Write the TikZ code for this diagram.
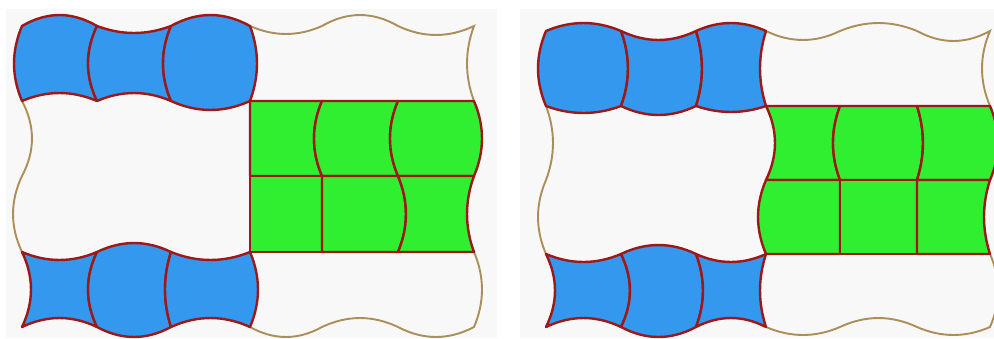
\documentclass[tikz,border=0pt]{standalone}
\usetikzlibrary{calc}
\definecolor{tileblue}{RGB}{51,152,238}
\definecolor{tilegreen}{RGB}{48,238,48}
\definecolor{edgered}{RGB}{158,24,24}
\definecolor{edgegold}{RGB}{172,142,88}
\definecolor{panelbg}{RGB}{248,248,248}
\tikzset{
 bh/.style={to path={.. controls ($(\tikztostart)!1/3!(\tikztotarget)+(0,{1.33*(#1)})$) and ($(\tikztostart)!2/3!(\tikztotarget)+(0,{1.33*(#1)})$) .. (\tikztotarget)}},
 bv/.style={to path={.. controls ($(\tikztostart)!1/3!(\tikztotarget)+({1.33*(#1)},0)$) and ($(\tikztostart)!2/3!(\tikztotarget)+({1.33*(#1)},0)$) .. (\tikztotarget)}},
 tileline/.style={draw=edgered, line width=2.4pt, line join=round},
 goldline/.style={draw=edgegold, line width=1.9pt, line join=miter, line cap=round},
}
\newcommand\tilebox[9]{\filldraw[tileline,fill=#1] (#2) to[bh=#6] (#3) to[bv=#7] (#4) to[bh=#8] (#5) to[bv=#9] (#2) -- cycle;}
\begin{document}
\begin{tikzpicture}[x=1pt,y=-1pt]
\useasboundingbox (0,0) rectangle (994,338);
\clip (0,0) rectangle (994,338);
\fill[panelbg] (6,9) rectangle (497,338);
\fill[panelbg] (520,9) rectangle (994,338);
\foreach \i/\x in {0/22,1/97,2/171,3/250,4/322,5/398,6/474}
 \foreach \j/\y in {0/26,1/101,2/176,3/252,4/327}
  \coordinate (a\i\j) at (\x,\y);
\foreach \i/\x in {0/546,1/621,2/696,3/766,4/840,5/917,6/990}
 \foreach \j/\y in {0/31,1/106,2/180,3/254,4/327}
  \coordinate (b\i\j) at (\x,\y);
% ---------- panel 1 ----------
\draw[goldline] (a30) to[bh=8] (a40) to[bh=-11] (a50) to[bh=9] (a60) to[bv=-7] (a61);
\draw[goldline] (a01) to[bv=10] (a02) to[bv=-9] (a03);
\draw[goldline] (a63) to[bv=8] (a64) to[bh=10] (a54) to[bh=-9] (a44) to[bh=10] (a34);
\tilebox{tileblue}{a00}{a10}{a11}{a01}{-11}{-9}{-8}{-8}
\tilebox{tileblue}{a10}{a20}{a21}{a11}{7}{-8}{-8}{-9}
\tilebox{tileblue}{a20}{a30}{a31}{a21}{-11}{7}{9}{-8}
\tilebox{tileblue}{a03}{a13}{a14}{a04}{8}{-9}{-9}{9}
\tilebox{tileblue}{a13}{a23}{a24}{a14}{-9}{-6}{10}{-9}
\tilebox{tileblue}{a23}{a33}{a34}{a24}{8}{8}{-9}{-6}
\tilebox{tilegreen}{a31}{a41}{a42}{a32}{0}{-8}{0}{0}
\tilebox{tilegreen}{a41}{a51}{a52}{a42}{0}{-8}{0}{-8}
\tilebox{tilegreen}{a51}{a61}{a62}{a52}{0}{8}{0}{-8}
\tilebox{tilegreen}{a32}{a42}{a43}{a33}{0}{0}{0}{0}
\tilebox{tilegreen}{a42}{a52}{a53}{a43}{0}{8}{0}{0}
\tilebox{tilegreen}{a52}{a62}{a63}{a53}{0}{-7}{0}{8}
% ---------- panel 2 ----------
\draw[goldline] (b30) to[bh=9] (b40) to[bh=-8] (b50) to[bh=10] (b60) to[bv=-8] (b61);
\draw[goldline] (b01) to[bv=7] (b02) to[bv=-8] (b03);
\draw[goldline] (b63) to[bv=8] (b64) to[bh=8] (b54) to[bh=-9] (b44) to[bh=8] (b34);
\tilebox{tileblue}{b00}{b10}{b11}{b01}{-8}{7}{7}{-8}
\tilebox{tileblue}{b10}{b20}{b21}{b11}{9}{6}{9}{7}
\tilebox{tileblue}{b20}{b30}{b31}{b21}{-8}{-6}{6}{6}
\tilebox{tileblue}{b03}{b13}{b14}{b04}{8}{9}{-9}{9}
\tilebox{tileblue}{b13}{b23}{b24}{b14}{-9}{7}{10}{9}
\tilebox{tileblue}{b23}{b33}{b34}{b24}{8}{-6}{-9}{7}
\tilebox{tilegreen}{b31}{b41}{b42}{b32}{0}{-7}{0}{9}
\tilebox{tilegreen}{b41}{b51}{b52}{b42}{0}{6}{0}{-7}
\tilebox{tilegreen}{b51}{b61}{b62}{b52}{0}{8}{0}{6}
\tilebox{tilegreen}{b32}{b42}{b43}{b33}{0}{0}{0}{-8}
\tilebox{tilegreen}{b42}{b52}{b53}{b43}{0}{0}{0}{0}
\tilebox{tilegreen}{b52}{b62}{b63}{b53}{0}{-6}{0}{0}
\end{tikzpicture}
\end{document}
